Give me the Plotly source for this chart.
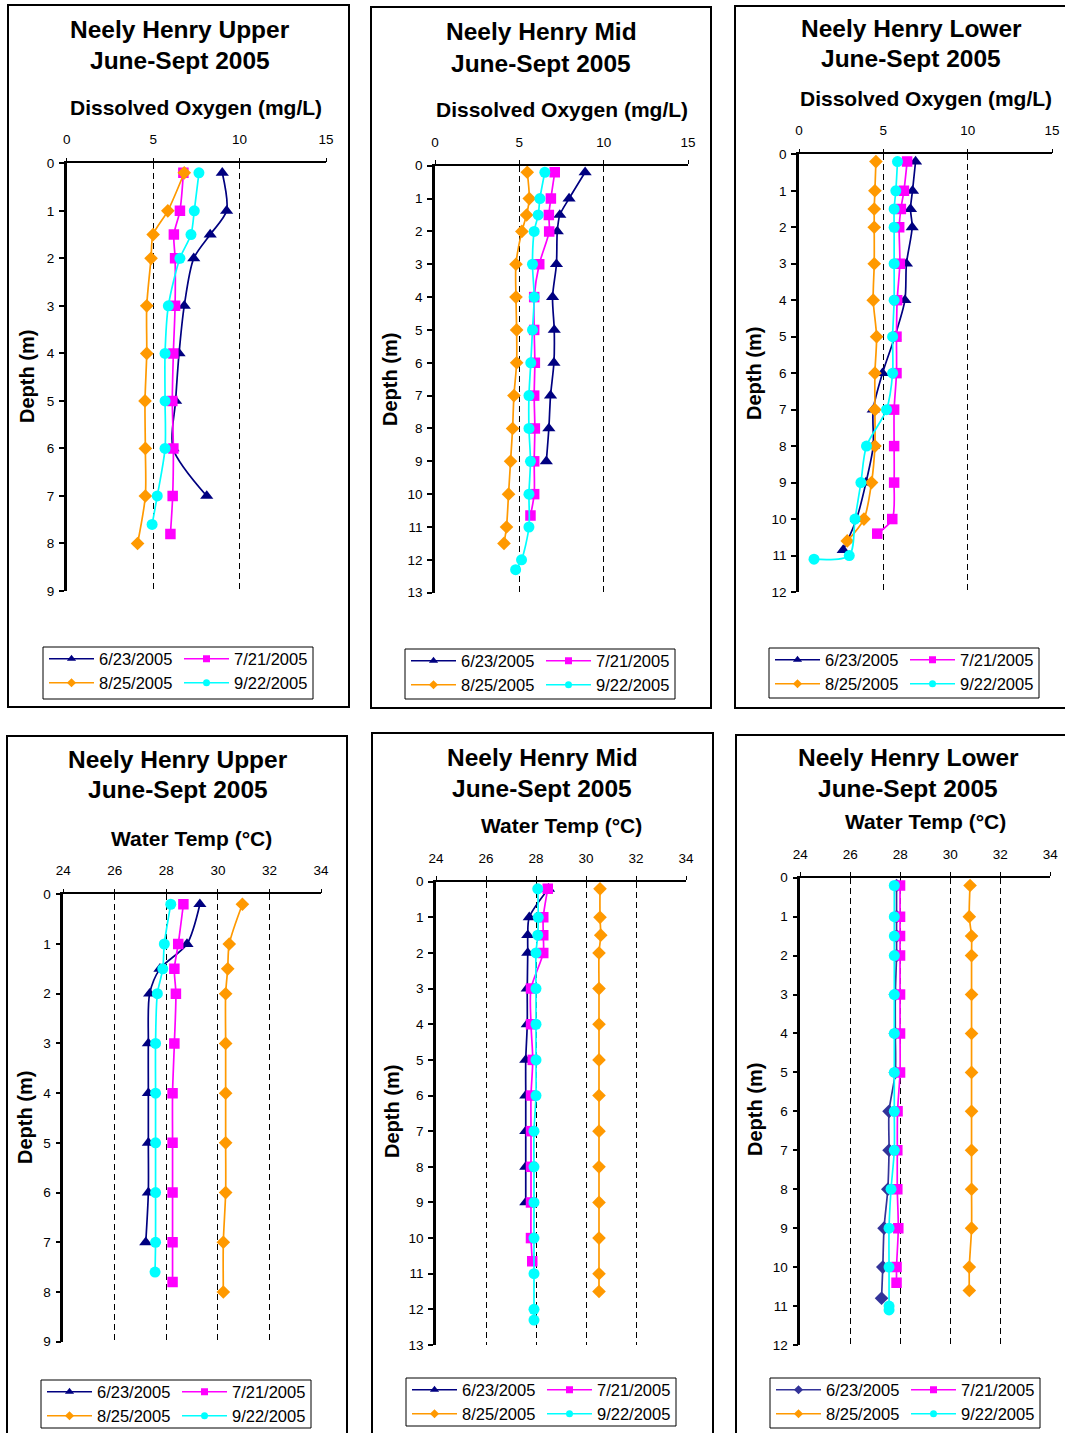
import plotly.graph_objects as go

W, H = 1065, 1433
FONT = "Arial, 'Liberation Sans', sans-serif"

# ---------------- data ----------------
DATES = ["6/23/2005", "7/21/2005", "8/25/2005", "9/22/2005"]
COLORS = ["#000080", "#FF00FF", "#FF9900", "#00FFFF"]
SYMBOLS = ["triangle-up", "square", "diamond", "circle"]

# Upper - Dissolved Oxygen (mg/L)
up_do_d_0623 = [0.2, 1, 1.5, 2, 3, 4, 5, 6, 7]
up_do_v_0623 = [9.0, 9.25, 8.3, 7.35, 6.8, 6.5, 6.3, 6.15, 8.1]
up_do_d_0721 = [0.2, 1, 1.5, 2, 3, 4, 5, 6, 7, 7.8]
up_do_v_0721 = [6.75, 6.55, 6.2, 6.27, 6.27, 6.17, 6.11, 6.17, 6.13, 6.0]
up_do_d_0825 = [0.2, 1, 1.5, 2, 3, 4, 5, 6, 7, 8]
up_do_v_0825 = [6.8, 5.85, 5.0, 4.88, 4.63, 4.63, 4.53, 4.55, 4.55, 4.1]
up_do_d_0922 = [0.2, 1, 1.5, 2, 3, 4, 5, 6, 7, 7.6]
up_do_v_0922 = [7.65, 7.38, 7.19, 6.55, 5.88, 5.69, 5.69, 5.69, 5.24, 4.94]

# Mid - Dissolved Oxygen (mg/L)
mid_do_d_0623 = [0.2, 1, 1.5, 2, 3, 4, 5, 6, 7, 8, 9]
mid_do_v_0623 = [8.9, 7.95, 7.4, 7.25, 7.2, 6.97, 7.07, 7.05, 6.85, 6.75, 6.6]
mid_do_d_0721 = [0.2, 1, 1.5, 2, 3, 4, 5, 6, 7, 8, 9, 10, 10.65]
mid_do_v_0721 = [7.1, 6.87, 6.75, 6.77, 6.18, 5.88, 5.88, 5.92, 5.88, 5.92, 5.88, 5.88, 5.66]
mid_do_d_0825 = [0.2, 1, 1.5, 2, 3, 4, 5, 6, 7, 8, 9, 10, 11, 11.5]
mid_do_v_0825 = [5.47, 5.59, 5.43, 5.15, 4.8, 4.8, 4.84, 4.84, 4.68, 4.6, 4.48, 4.36, 4.24, 4.09]
mid_do_d_0922 = [0.2, 1, 1.5, 2, 3, 4, 5, 6, 7, 8, 9, 10, 11, 12, 12.3]
mid_do_v_0922 = [6.51, 6.22, 6.12, 5.88, 5.78, 5.88, 5.78, 5.68, 5.57, 5.57, 5.66, 5.57, 5.57, 5.13, 4.78]

# Lower - Dissolved Oxygen (mg/L)
low_do_d_0623 = [0.2, 1, 1.5, 2, 3, 4, 5, 6, 7, 8, 9, 10, 10.85]
low_do_v_0623 = [6.91, 6.73, 6.61, 6.71, 6.37, 6.28, 5.68, 4.95, 4.4, 4.4, 3.97, 3.41, 2.62]
low_do_d_0721 = [0.2, 1, 1.5, 2, 3, 4, 5, 6, 7, 8, 9, 10, 10.4]
low_do_v_0721 = [6.41, 6.22, 6.04, 5.94, 5.98, 5.82, 5.78, 5.78, 5.64, 5.64, 5.64, 5.53, 4.64]
low_do_d_0825 = [0.2, 1, 1.5, 2, 3, 4, 5, 6, 7, 8, 9, 10, 10.6]
low_do_v_0825 = [4.56, 4.5, 4.46, 4.46, 4.46, 4.4, 4.6, 4.5, 4.5, 4.5, 4.3, 3.85, 2.86]
low_do_d_0922 = [0.2, 1, 1.5, 2, 3, 4, 5, 6, 7, 8, 9, 10, 11, 11.1]
low_do_v_0922 = [5.84, 5.74, 5.64, 5.64, 5.64, 5.64, 5.55, 5.55, 5.19, 4.0, 3.67, 3.32, 2.98, 0.89]

# Upper - Water Temp (C)
up_t_d_0623 = [0.2, 1, 1.5, 2, 3, 4, 5, 6, 7]
up_t_v_0623 = [29.3, 28.8, 27.75, 27.35, 27.3, 27.3, 27.3, 27.3, 27.2]
up_t_d_0721 = [0.2, 1, 1.5, 2, 3, 4, 5, 6, 7, 7.8]
up_t_v_0721 = [28.66, 28.46, 28.31, 28.37, 28.31, 28.24, 28.24, 28.24, 28.24, 28.24]
up_t_d_0825 = [0.2, 1, 1.5, 2, 3, 4, 5, 6, 7, 8]
up_t_v_0825 = [30.95, 30.44, 30.38, 30.3, 30.3, 30.3, 30.3, 30.3, 30.21, 30.21]
up_t_d_0922 = [0.2, 1, 1.5, 2, 3, 4, 5, 6, 7, 7.6]
up_t_v_0922 = [28.17, 27.92, 27.86, 27.65, 27.58, 27.58, 27.58, 27.58, 27.58, 27.56]

# Mid - Water Temp (C)
mid_t_d_0623 = [0.2, 1, 1.5, 2, 3, 4, 5, 6, 7, 8, 9]
mid_t_v_0623 = [28.5, 27.73, 27.67, 27.67, 27.65, 27.65, 27.59, 27.59, 27.59, 27.59, 27.59]
mid_t_d_0721 = [0.2, 1, 1.5, 2, 3, 4, 5, 6, 7, 8, 9, 10, 10.65]
mid_t_v_0721 = [28.47, 28.29, 28.29, 28.29, 27.8, 27.8, 27.87, 27.8, 27.8, 27.8, 27.8, 27.8, 27.85]
mid_t_d_0825 = [0.2, 1, 1.5, 2, 3, 4, 5, 6, 7, 8, 9, 10, 11, 11.5]
mid_t_v_0825 = [30.56, 30.56, 30.59, 30.52, 30.52, 30.52, 30.52, 30.52, 30.52, 30.52, 30.52, 30.52, 30.52, 30.52]
mid_t_d_0922 = [0.2, 1, 1.5, 2, 3, 4, 5, 6, 7, 8, 9, 10, 11, 12, 12.3]
mid_t_v_0922 = [28.07, 28.09, 28.07, 28.0, 28.0, 28.0, 28.0, 28.0, 27.92, 27.92, 27.92, 27.92, 27.92, 27.92, 27.92]

# Lower - Water Temp (C)
low_t_d_0623 = [0.2, 1, 1.5, 2, 3, 4, 5, 6, 7, 8, 9, 10, 10.8]
low_t_v_0623 = [27.85, 27.85, 27.85, 27.85, 27.8, 27.8, 27.8, 27.55, 27.55, 27.5, 27.35, 27.3, 27.25]
low_t_d_0721 = [0.2, 1, 1.5, 2, 3, 4, 5, 6, 7, 8, 9, 10, 10.4]
low_t_v_0721 = [27.99, 27.99, 27.99, 27.99, 27.99, 27.99, 27.99, 27.89, 27.88, 27.88, 27.92, 27.85, 27.85]
low_t_d_0825 = [0.2, 1, 1.5, 2, 3, 4, 5, 6, 7, 8, 9, 10, 10.6]
low_t_v_0825 = [30.79, 30.76, 30.85, 30.85, 30.85, 30.85, 30.85, 30.85, 30.85, 30.85, 30.85, 30.76, 30.76]
low_t_d_0922 = [0.2, 1, 1.5, 2, 3, 4, 5, 6, 7, 8, 9, 10, 11, 11.1]
low_t_v_0922 = [27.76, 27.76, 27.76, 27.76, 27.76, 27.76, 27.76, 27.76, 27.76, 27.63, 27.55, 27.55, 27.55, 27.55]

DO_TITLE = "Dissolved Oxygen (mg/L)"
T_TITLE = "Water Temp (°C)"
SITE_TITLES = ["Neely Henry Upper", "Neely Henry Mid", "Neely Henry Lower"]
SUBTITLE = "June-Sept 2005"
DO_RANGE = [0, 15]
T_RANGE = [24, 34]

# ---------------- layout (pixel geometry) ----------------
panels = [
    dict(site=SITE_TITLES[0], var=DO_TITLE, xr=DO_RANGE, dt=5, ymax=9,
         series=[(up_do_d_0623, up_do_v_0623), (up_do_d_0721, up_do_v_0721),
                 (up_do_d_0825, up_do_v_0825), (up_do_d_0922, up_do_v_0922)],
         xdom=(66.7, 326), ydom=(163.3, 591), frame=(8, 5, 349, 707),
         tx=180, ty=30, sy=61, vx=196, vy=107, dx=27, dy=377,
         lbox=(43, 647, 313, 699), lrows=(659, 683)),
    dict(site=SITE_TITLES[1], var=DO_TITLE, xr=DO_RANGE, dt=5, ymax=13,
         series=[(mid_do_d_0623, mid_do_v_0623), (mid_do_d_0721, mid_do_v_0721),
                 (mid_do_d_0825, mid_do_v_0825), (mid_do_d_0922, mid_do_v_0922)],
         xdom=(435, 688), ydom=(165.7, 592.7), frame=(371, 7, 711, 708),
         tx=541, ty=31, sy=63, vx=562, vy=109, dx=390, dy=380,
         lbox=(405, 649, 675, 699), lrows=(661, 685)),
    dict(site=SITE_TITLES[2], var=DO_TITLE, xr=DO_RANGE, dt=5, ymax=12,
         series=[(low_do_d_0623, low_do_v_0623), (low_do_d_0721, low_do_v_0721),
                 (low_do_d_0825, low_do_v_0825), (low_do_d_0922, low_do_v_0922)],
         xdom=(799, 1052), ydom=(154.3, 592), frame=(735, 6, 1070, 708),
         tx=911, ty=28, sy=59, vx=926, vy=98, dx=754, dy=374,
         lbox=(769, 648, 1039, 698), lrows=(660, 684)),
    dict(site=SITE_TITLES[0], var=T_TITLE, xr=T_RANGE, dt=2, ymax=9,
         series=[(up_t_d_0623, up_t_v_0623), (up_t_d_0721, up_t_v_0721),
                 (up_t_d_0825, up_t_v_0825), (up_t_d_0922, up_t_v_0922)],
         xdom=(63.3, 321), ydom=(894.3, 1341.7), frame=(7, 736, 347, 1440),
         tx=178, ty=759, sy=790, vx=191, vy=838, dx=25, dy=1118,
         lbox=(41, 1380, 311, 1428), lrows=(1392, 1416)),
    dict(site=SITE_TITLES[1], var=T_TITLE, xr=T_RANGE, dt=2, ymax=13,
         series=[(mid_t_d_0623, mid_t_v_0623), (mid_t_d_0721, mid_t_v_0721),
                 (mid_t_d_0825, mid_t_v_0825), (mid_t_d_0922, mid_t_v_0922)],
         xdom=(436, 686), ydom=(881.7, 1345), frame=(372, 733, 713, 1440),
         tx=542, ty=757, sy=788, vx=561, vy=825, dx=392, dy=1112,
         lbox=(406, 1378, 676, 1426), lrows=(1390, 1414)),
    dict(site=SITE_TITLES[2], var=T_TITLE, xr=T_RANGE, dt=2, ymax=12,
         series=[(low_t_d_0623, low_t_v_0623), (low_t_d_0721, low_t_v_0721),
                 (low_t_d_0825, low_t_v_0825), (low_t_d_0922, low_t_v_0922)],
         xdom=(800.3, 1050.3), ydom=(877.7, 1345), frame=(736, 735, 1070, 1440),
         tx=908, ty=757, sy=788, vx=925, vy=821, dx=755, dy=1110,
         lbox=(770, 1378, 1040, 1428), lrows=(1390, 1414),
         first_color="#333399", first_symbol="diamond"),
]


def fx(p):
    return p / W


def fy(p):
    return 1 - p / H


MSIZE = {"triangle-up": 11.5, "square": 10.5, "diamond": 10.5, "circle": 11}
LSIZE = {"triangle-up": 8, "square": 7, "diamond": 7, "circle": 7}

fig = go.Figure()
layout = dict(width=W, height=H,
              margin=dict(l=0, r=0, t=0, b=0, pad=0, autoexpand=False),
              paper_bgcolor="white", plot_bgcolor="white",
              font=dict(family=FONT, color="black"), showlegend=True)
annotations = []
shapes = []
legend_idx = 0

for i, p in enumerate(panels):
    n = i + 1
    xa = "x" if n == 1 else f"x{n}"
    ya = "y" if n == 1 else f"y{n}"
    colors = list(COLORS)
    symbols = list(SYMBOLS)
    if "first_color" in p:
        colors[0] = p["first_color"]
        symbols[0] = p["first_symbol"]

    legnames = []
    for r in range(2):
        legend_idx += 1
        lname = "legend" if legend_idx == 1 else f"legend{legend_idx}"
        legnames.append(lname)
        layout[lname] = dict(
            orientation="h", x=fx(p["lbox"][0] + 1), xanchor="left",
            y=fy(p["lrows"][r]), yanchor="middle",
            font=dict(family=FONT, size=16.5, color="black"),
            bgcolor="rgba(0,0,0,0)", borderwidth=0,
            itemwidth=45, entrywidth=75, entrywidthmode="pixels",
            itemclick=False, itemdoubleclick=False)

    for k, (d, v) in enumerate(p["series"]):
        fig.add_trace(go.Scatter(
            x=v, y=d, xaxis=xa, yaxis=ya, mode="lines+markers",
            line=dict(color=colors[k], width=1.7, shape="spline", smoothing=0.8),
            marker=dict(symbol=symbols[k], size=MSIZE[symbols[k]], color=colors[k]),
            showlegend=False, hoverinfo="skip"))
    for k in range(4):
        fig.add_trace(go.Scatter(
            x=[None], y=[None], xaxis=xa, yaxis=ya, mode="lines+markers",
            name=DATES[k], legend=legnames[k // 2],
            line=dict(color=colors[k], width=1.6),
            marker=dict(symbol=symbols[k], size=LSIZE[symbols[k]], color=colors[k]),
            showlegend=True))

    xkey = "xaxis" if n == 1 else f"xaxis{n}"
    ykey = "yaxis" if n == 1 else f"yaxis{n}"
    layout[xkey] = dict(
        domain=[fx(p["xdom"][0]), fx(p["xdom"][1])], range=p["xr"],
        anchor=ya, side="top", showline=True, linecolor="black", linewidth=1.5,
        ticks="outside", ticklen=4, tickcolor="black", tickwidth=1,
        tick0=p["xr"][0], dtick=p["dt"], showgrid=True, gridcolor="black",
        gridwidth=1, griddash="6px,4px", zeroline=False,
        tickfont=dict(family=FONT, size=13.5, color="black"), ticklabelstandoff=8,
        fixedrange=True)
    layout[ykey] = dict(
        domain=[fy(p["ydom"][1]), fy(p["ydom"][0])], range=[p["ymax"], 0],
        anchor=xa, showline=True, linecolor="black", linewidth=2.5,
        ticks="outside", ticklen=5, tickcolor="black", tickwidth=1.5,
        tick0=0, dtick=1, showgrid=False, zeroline=False,
        tickfont=dict(family=FONT, size=13.5, color="black"), ticklabelstandoff=2,
        fixedrange=True)

    annotations.append(dict(text=f"<b>{p['site']}</b>", x=fx(p["tx"]), y=fy(p["ty"]),
                            xref="paper", yref="paper", showarrow=False,
                            xanchor="center", yanchor="middle",
                            font=dict(family=FONT, size=24.5, color="black")))
    annotations.append(dict(text=f"<b>{SUBTITLE}</b>", x=fx(p["tx"]), y=fy(p["sy"]),
                            xref="paper", yref="paper", showarrow=False,
                            xanchor="center", yanchor="middle",
                            font=dict(family=FONT, size=24.5, color="black")))
    annotations.append(dict(text=f"<b>{p['var']}</b>", x=fx(p["vx"]), y=fy(p["vy"]),
                            xref="paper", yref="paper", showarrow=False,
                            xanchor="center", yanchor="middle",
                            font=dict(family=FONT, size=21, color="black")))
    annotations.append(dict(text="<b>Depth (m)</b>", x=fx(p["dx"]), y=fy(p["dy"]),
                            xref="paper", yref="paper", showarrow=False, textangle=-90,
                            xanchor="center", yanchor="middle",
                            font=dict(family=FONT, size=20, color="black")))

    f = p["frame"]
    shapes.append(dict(type="rect", xref="paper", yref="paper",
                       x0=fx(f[0]), x1=fx(f[2]), y0=fy(f[3]), y1=fy(f[1]),
                       line=dict(color="black", width=2), fillcolor="rgba(0,0,0,0)",
                       layer="below"))
    b = p["lbox"]
    shapes.append(dict(type="rect", xref="paper", yref="paper",
                       x0=fx(b[0]), x1=fx(b[2]), y0=fy(b[3]), y1=fy(b[1]),
                       line=dict(color="black", width=1), fillcolor="rgba(0,0,0,0)",
                       layer="below"))

layout["annotations"] = annotations
layout["shapes"] = shapes
fig.update_layout(**layout)
fig.write_html("out.html", config={"displayModeBar": False},
               post_script="document.body.style.margin='0';document.body.style.overflow='hidden';")
